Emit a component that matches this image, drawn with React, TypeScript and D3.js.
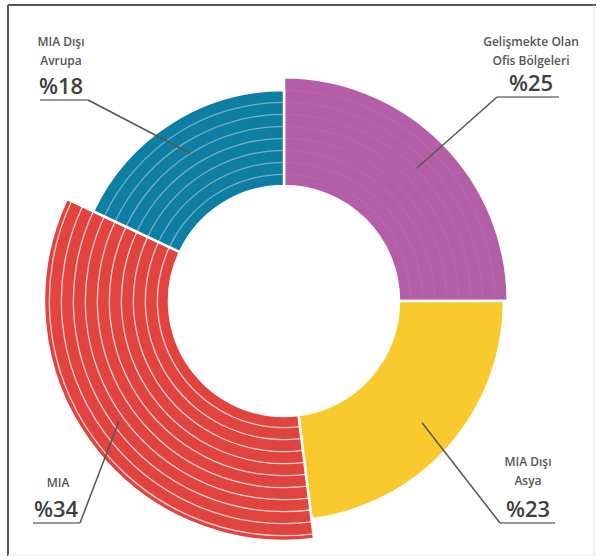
import React from "react";
import * as d3 from "d3";

// ---- data ----
const categories = ["Gelişmekte Olan Ofis Bölgeleri", "MIA Dışı Asya", "MIA", "MIA Dışı Avrupa"];
const shares = [25, 23, 34, 18];
const labelLines = [["Gelişmekte Olan", "Ofis Bölgeleri"], ["MIA Dışı", "Asya"], ["MIA"], ["MIA Dışı", "Avrupa"]];
const pctLabels = ["%25", "%23", "%34", "%18"];

// ---- styles / layout ----
const colors = ["#B35EA6", "#F9CA2E", "#E1433F", "#0E7EA3"];
const stripeOpacity = [0.06, 0, 0.75, 0.4];
const labelLayout = [
  { cx: 531, y1: 46, ul: 97, ux0: 497, ux1: 559, side: "left" },
  { cx: 528, y1: 466, ul: 523, ux0: 500, ux1: 555, side: "left" },
  { cx: 58, y1: 487, ul: 523, ux0: 33, ux1: 80, side: "right" },
  { cx: 61, y1: 46, ul: 100, ux0: 40, ux1: 88, side: "right" },
];

const W = 597, H = 560;
const CX = 284, CY = 301;
const R_IN = 115;

export default function App() {
  const pie = d3.pie<number>().value((d) => d).sort(null);
  const arcsData = pie(shares);
  const outerScale = d3.scaleLinear().domain([d3.min(shares)!, d3.max(shares)!]).range([211, 240]);

  return (
    <svg width={W} height={H} style={{ position: "absolute", left: 0, top: 0, background: "#fff" }}
      fontFamily="'Open Sans', 'DejaVu Sans', sans-serif">
      <rect x={0} y={0} width={W} height={H} fill="#fff" />
      {/* frame */}
      <line x1={8} y1={5} x2={596} y2={5} stroke="#555" strokeWidth={2} />
      <line x1={8} y1={5} x2={8} y2={556} stroke="#555" strokeWidth={2} />
      <line x1={594} y1={5} x2={594} y2={556} stroke="#e4e4e4" strokeWidth={1} />
      <line x1={8} y1={555} x2={594} y2={555} stroke="#eeeeee" strokeWidth={1} />
      <g transform={`translate(${CX},${CY})`}>
        {arcsData.map((a, i) => {
          const ro = outerScale(shares[i]);
          const arc = d3.arc<any>().innerRadius(R_IN).outerRadius(ro);
          const stripes: number[] = [];
          if (stripeOpacity[i] > 0) {
            for (let r = R_IN + 11; r < ro - 4; r += 12) stripes.push(r);
          }
          return (
            <g key={categories[i]}>
              <path d={arc(a) || ""} fill={colors[i]} stroke="#fff" strokeWidth={2.5} />
              {stripes.map((r) => (
                <path key={r}
                  d={d3.arc<any>().innerRadius(r).outerRadius(r + 1.3)(a) || ""}
                  fill="#fff" opacity={stripeOpacity[i]} />
              ))}
            </g>
          );
        })}
      </g>
      {/* labels */}
      {arcsData.map((a, i) => {
        const L = labelLayout[i];
        const ro = outerScale(shares[i]);
        const mid = (a.startAngle + a.endAngle) / 2;
        const ra = ro - 36;
        const px = CX + ra * Math.sin(mid);
        const py = CY - ra * Math.cos(mid);
        const lines = labelLines[i];
        const pctY = L.ul - 6;
        const attachX = L.side === "left" ? L.ux0 : L.ux1;
        return (
          <g key={"lab" + i}>
            {lines.map((t, j) => (
              <text key={t} x={L.cx} y={L.y1 + j * 19} textAnchor="middle" fontSize={12}
                fontWeight={600} fill="#555">{t}</text>
            ))}
            <text x={L.cx - (i === 2 ? 2 : 0)} y={pctY} textAnchor="middle" fontSize={22}
              fontWeight={600} fill="#3f3f3f">{pctLabels[i]}</text>
            <line x1={L.ux0} y1={L.ul} x2={L.ux1} y2={L.ul} stroke="#777" strokeWidth={1.5} />
            <line x1={attachX} y1={L.ul} x2={px} y2={py} stroke="#555" strokeWidth={1.5} />
          </g>
        );
      })}
    </svg>
  );
}
